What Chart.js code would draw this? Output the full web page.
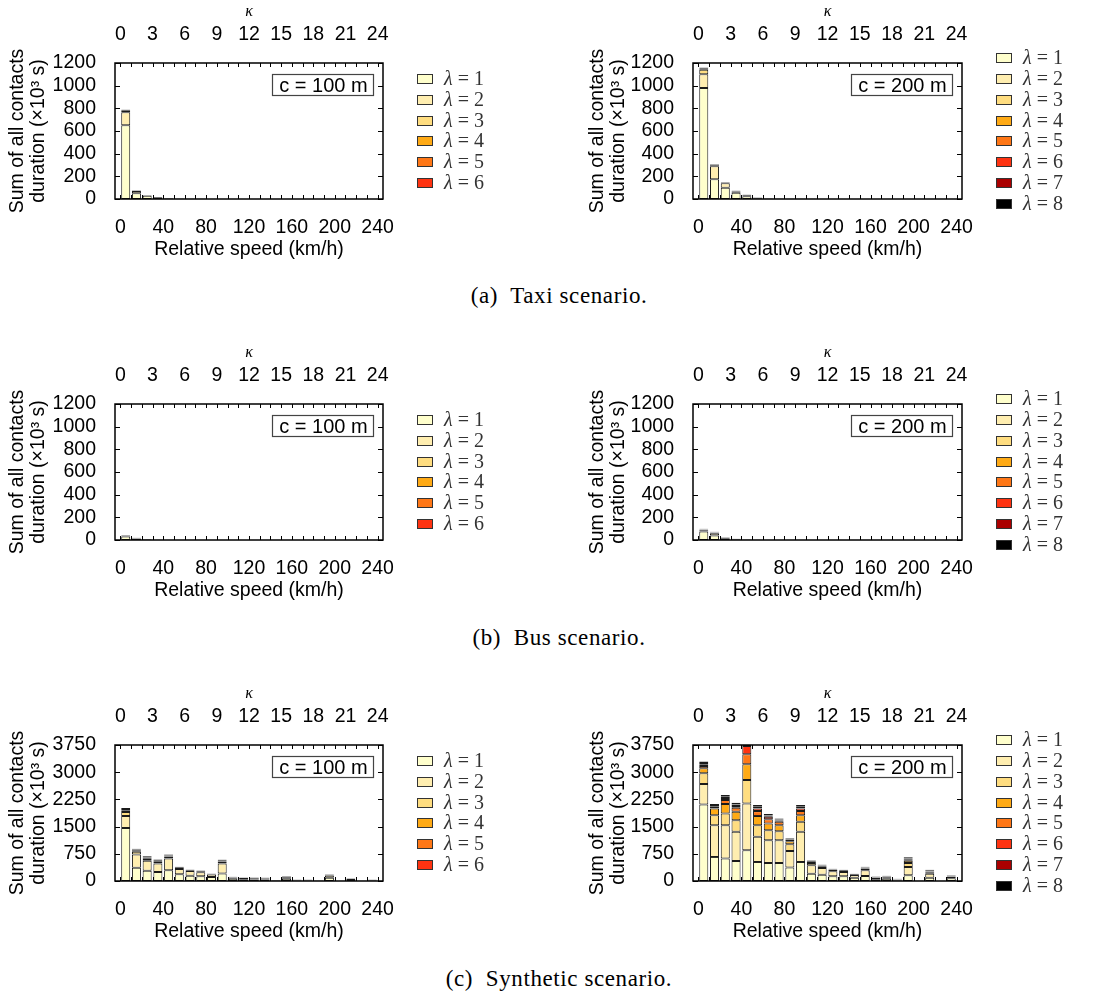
<!DOCTYPE html>
<html>
<head>
<meta charset="utf-8">
<script src="https://cdn.jsdelivr.net/npm/chart.js@4.4.1/dist/chart.umd.min.js"></script>
<style>
body { margin: 0; background: #fff; }
#fig { position: relative; width: 1118px; height: 996px; }
#fig canvas { position: absolute; }
.cap { position: absolute; left: 0; width: 1118px; text-align: center; font-family: 'Liberation Serif', serif; font-size: 23px; line-height: 26px; letter-spacing: 0.6px; color: #000; }
</style>
</head>
<body>
<div id="fig">
  <canvas id="taxi100" width="559" height="275" style="left:0;top:0"></canvas>
  <canvas id="taxi200" width="559" height="275" style="left:559px;top:0"></canvas>
  <div class="cap" style="top:283px">(a)&nbsp; Taxi scenario.</div>
  <canvas id="bus100" width="559" height="275" style="left:0;top:341px"></canvas>
  <canvas id="bus200" width="559" height="275" style="left:559px;top:341px"></canvas>
  <div class="cap" style="top:625px">(b)&nbsp; Bus scenario.</div>
  <canvas id="synth100" width="559" height="275" style="left:0;top:682px"></canvas>
  <canvas id="synth200" width="559" height="275" style="left:559px;top:682px"></canvas>
  <div class="cap" style="top:966px">(c)&nbsp; Synthetic scenario.</div>
</div>
<script>
// bar centres, relative speed (km/h)
var speeds = [5, 15, 25, 35, 45, 55, 65, 75, 85, 95, 105, 115, 125, 135, 145, 155, 165, 175, 185, 195, 205, 215, 225, 235];

var lambdaColors = ['#ffffcc', '#ffeeb0', '#ffdd80', '#ffaa15', '#ff7716', '#ff3311', '#aa0000', '#000000'];

var taxiTicks = [0, 200, 400, 600, 800, 1000, 1200];
var synthTicks = [0, 750, 1500, 2250, 3000, 3750];

// one row per lambda (1..6 or 1..8), values in 10^3 s
var taxi100 = [
  [650, 50, 28, 12, 5, 3, 1.5, 1, 0.5, 0.3, 0.2, 0, 0, 0, 0, 0, 0, 0, 0, 0, 0, 0, 0, 0],
  [115, 20, 6, 5, 2, 1.5, 0.5, 0.3, 0.2, 0, 0, 0, 0, 0, 0, 0, 0, 0, 0, 0, 0, 0, 0, 0],
  [12, 4, 1, 1, 1, 0.5, 0, 0, 0, 0, 0, 0, 0, 0, 0, 0, 0, 0, 0, 0, 0, 0, 0, 0],
  [6, 1, 0.5, 0, 0, 0, 0, 0, 0, 0, 0, 0, 0, 0, 0, 0, 0, 0, 0, 0, 0, 0, 0, 0],
  [4, 0.5, 0, 0, 0, 0, 0, 0, 0, 0, 0, 0, 0, 0, 0, 0, 0, 0, 0, 0, 0, 0, 0, 0],
  [3, 0.5, 0, 0, 0, 0, 0, 0, 0, 0, 0, 0, 0, 0, 0, 0, 0, 0, 0, 0, 0, 0, 0, 0]
];

var taxi200 = [
  [980, 175, 100, 55, 25, 6, 3, 2, 1.5, 1, 1, 0.8, 0.5, 0.3, 0, 0, 0, 0, 0, 0, 0, 0, 0, 0],
  [120, 115, 38, 12, 8, 4, 1.5, 1, 0.8, 0.5, 0.5, 0.3, 0.3, 0.2, 0, 0, 0, 0, 0, 0, 0, 0, 0, 0],
  [40, 8, 7, 4, 3, 2, 0.5, 0.5, 0.3, 0, 0, 0, 0, 0, 0, 0, 0, 0, 0, 0, 0, 0, 0, 0],
  [8, 3, 2, 1, 1, 1, 0.3, 0, 0, 0, 0, 0, 0, 0, 0, 0, 0, 0, 0, 0, 0, 0, 0, 0],
  [5, 2, 1, 1, 2, 0, 0, 0, 0, 0, 0, 0, 0, 0, 0, 0, 0, 0, 0, 0, 0, 0, 0, 0],
  [4, 1, 0.5, 0, 1, 0, 0, 0, 0, 0, 0, 0, 0, 0, 0, 0, 0, 0, 0, 0, 0, 0, 0, 0],
  [4, 1, 0.5, 0, 0, 0, 0, 0, 0, 0, 0, 0, 0, 0, 0, 0, 0, 0, 0, 0, 0, 0, 0, 0],
  [2, 3, 1.5, 2, 0, 2, 0.5, 0, 0, 0, 0, 0, 0, 0, 0, 0, 0, 0, 0, 0, 0, 0, 0, 0]
];

var bus100 = [
  [30, 10, 4, 1.2, 0.6, 0.3, 0, 0, 0, 0, 0, 0, 0, 0, 0, 0, 0, 0, 0, 0, 0, 0, 0, 0],
  [6, 5, 2, 0.5, 0.3, 0, 0, 0, 0, 0, 0, 0, 0, 0, 0, 0, 0, 0, 0, 0, 0, 0, 0, 0],
  [3, 2, 1, 0.2, 0, 0, 0, 0, 0, 0, 0, 0, 0, 0, 0, 0, 0, 0, 0, 0, 0, 0, 0, 0],
  [2, 1, 0.5, 0, 0, 0, 0, 0, 0, 0, 0, 0, 0, 0, 0, 0, 0, 0, 0, 0, 0, 0, 0, 0],
  [2, 1, 0.3, 0, 0, 0, 0, 0, 0, 0, 0, 0, 0, 0, 0, 0, 0, 0, 0, 0, 0, 0, 0, 0],
  [2, 1, 0.2, 0, 0, 0, 0, 0, 0, 0, 0, 0, 0, 0, 0, 0, 0, 0, 0, 0, 0, 0, 0, 0]
];

var bus200 = [
  [75, 40, 12, 5, 2, 1, 0, 0, 0, 0, 0, 0, 0, 0, 0, 0, 0, 0, 0, 0, 0, 0, 0, 0],
  [12, 20, 7, 3, 1.5, 0.5, 0, 0, 0, 0, 0, 0, 0, 0, 0, 0, 0, 0, 0, 0, 0, 0, 0, 0],
  [4, 4, 2, 1, 0.5, 0.2, 0, 0, 0, 0, 0, 0, 0, 0, 0, 0, 0, 0, 0, 0, 0, 0, 0, 0],
  [2, 2, 1, 0.5, 0.3, 0, 0, 0, 0, 0, 0, 0, 0, 0, 0, 0, 0, 0, 0, 0, 0, 0, 0, 0],
  [1, 1, 1, 0.5, 0.2, 0, 0, 0, 0, 0, 0, 0, 0, 0, 0, 0, 0, 0, 0, 0, 0, 0, 0, 0],
  [2, 1, 0.5, 0.5, 0.2, 0, 0, 0, 0, 0, 0, 0, 0, 0, 0, 0, 0, 0, 0, 0, 0, 0, 0, 0],
  [3, 1, 0.5, 0.5, 0.3, 0, 0, 0, 0, 0, 0, 0, 0, 0, 0, 0, 0, 0, 0, 0, 0, 0, 0, 0],
  [1, 3, 3, 1, 1, 0.3, 0, 0, 0, 0, 0, 0, 0, 0, 0, 0, 0, 0, 0, 0, 0, 0, 0, 0]
];

var synth100 = [
  [1460, 366, 285, 247, 293, 183, 146, 128, 110, 210, 60, 50, 40, 40, 10, 60, 10, 10, 5, 90, 3, 30, 3, 10],
  [330, 366, 273, 238, 329, 146, 129, 110, 70, 275, 35, 30, 35, 30, 8, 45, 10, 10, 5, 60, 2, 25, 2, 10],
  [110, 75, 55, 45, 55, 30, 22, 28, 15, 55, 10, 10, 10, 10, 5, 15, 6, 6, 3, 20, 2, 10, 2, 7],
  [50, 40, 35, 30, 28, 17, 12, 14, 8, 30, 7, 5, 7, 7, 3, 8, 5, 5, 3, 10, 1, 7, 1, 5],
  [35, 25, 22, 20, 15, 10, 7, 8, 4, 15, 4, 3, 5, 5, 2, 5, 4, 4, 2, 7, 1, 5, 1, 4],
  [25, 16, 16, 15, 12, 7, 4, 5, 3, 10, 3, 2, 3, 3, 2, 4, 5, 5, 2, 5, 1, 3, 1, 4]
];

var synth200 = [
  [2110, 665, 620, 553, 848, 525, 498, 498, 369, 525, 203, 175, 129, 129, 92, 138, 50, 60, 15, 157, 3, 92, 2, 74],
  [565, 875, 920, 802, 1290, 692, 627, 627, 461, 830, 230, 185, 138, 120, 74, 157, 40, 45, 12, 230, 3, 111, 2, 37],
  [295, 275, 322, 323, 645, 323, 276, 249, 184, 277, 65, 45, 35, 30, 18, 50, 15, 18, 8, 111, 2, 40, 1, 15],
  [138, 185, 260, 231, 435, 249, 185, 166, 83, 184, 28, 20, 15, 14, 8, 22, 8, 8, 5, 60, 2, 18, 1, 8],
  [65, 45, 110, 110, 275, 138, 120, 92, 46, 111, 18, 10, 8, 7, 4, 12, 5, 5, 4, 40, 2, 10, 1, 5],
  [46, 25, 56, 46, 230, 74, 64, 37, 18, 74, 10, 5, 5, 4, 2, 6, 3, 3, 4, 25, 3, 6, 1, 3],
  [37, 25, 36, 46, 40, 46, 37, 28, 14, 46, 8, 5, 4, 3, 2, 5, 3, 3, 5, 20, 5, 6, 1, 3],
  [36, 25, 46, 46, 40, 46, 37, 27, 14, 46, 10, 7, 7, 6, 3, 6, 5, 6, 12, 21, 2, 30, 1, 12]
];

Chart.defaults.font.family = "'Liberation Sans', Arial, sans-serif";
Chart.defaults.font.size = 19.5;
Chart.defaults.color = '#000';

// frame, inward ticks, "c = ..." box and the lambda key
var framePlugin = {
  id: 'frame',
  afterDatasetsDraw: function(chart, args, opts) {
    var ctx = chart.ctx, a = chart.chartArea, sx = chart.scales.x, sk = chart.scales.x2, sy = chart.scales.y;
    ctx.save();
    ctx.strokeStyle = '#000';
    ctx.lineWidth = 1;
    ctx.beginPath();
    for (var v = 0; v <= 240; v += 10) {
      var px = Math.round(sx.getPixelForValue(v)) + 0.5;
      ctx.moveTo(px, a.bottom); ctx.lineTo(px, a.bottom - 4);
    }
    for (var k = 0; k <= 24; k++) {
      var pk = Math.round(sk.getPixelForValue(k)) + 0.5;
      ctx.moveTo(pk, a.top); ctx.lineTo(pk, a.top + 4);
    }
    sy.ticks.forEach(function(t) {
      var py = Math.round(sy.getPixelForValue(t.value)) + 0.5;
      ctx.moveTo(a.left, py); ctx.lineTo(a.left + 5, py);
      ctx.moveTo(a.right, py); ctx.lineTo(a.right - 5, py);
    });
    ctx.stroke();
    ctx.lineWidth = 1.5;
    ctx.strokeRect(a.left, a.top, a.right - a.left, a.bottom - a.top);

    // range box
    var bw = 101, bh = 21, bx = a.right - 10 - bw, by = a.top + 11;
    ctx.fillStyle = '#fff';
    ctx.fillRect(bx, by, bw, bh);
    ctx.lineWidth = 1.2;
    ctx.strokeStyle = '#444';
    ctx.strokeRect(bx + 0.5, by + 0.5, bw, bh);
    ctx.fillStyle = '#000';
    ctx.font = "20px 'Liberation Sans'";
    ctx.textAlign = 'center';
    ctx.textBaseline = 'middle';
    ctx.fillText(opts.range, bx + bw / 2 + 1, by + bh / 2 + 1.5);

    // key
    var n = chart.data.datasets.length, cy = (a.top + a.bottom) / 2;
    var lx = a.right + 34, tx = a.right + 61;
    ctx.textAlign = 'left';
    chart.data.datasets.forEach(function(ds, i) {
      var y = Math.round(cy + (i - (n - 1) / 2) * 20.8);
      ctx.fillStyle = ds.backgroundColor;
      ctx.fillRect(lx, y - 5, 16, 10);
      ctx.strokeStyle = '#333';
      ctx.lineWidth = 1;
      ctx.strokeRect(lx + 0.5, y - 4.5, 15, 9);
      ctx.fillStyle = '#333';
      ctx.font = "italic 20px 'Liberation Serif'";
      ctx.fillText('\u03bb', tx, y + 1);
      var w = ctx.measureText('\u03bb').width;
      ctx.font = "20px 'Liberation Serif'";
      ctx.fillText('=', tx + w + 5, y + 1);
      var we = ctx.measureText('=').width;
      ctx.fillText(String(i + 1), tx + w + we + 10, y + 1);
    });
    ctx.restore();
  }
};

function makePanel(id, series, yMax, yTicks, range, isRight) {
  var chartLeft = isRight ? 134 : 115;
  var chartRight = isRight ? 403 : 383;
  var padLeft = isRight ? 21 : 0;
  var datasets = series.map(function(vals, i) {
    return {
      label: '\u03bb = ' + (i + 1),
      data: vals,
      xAxisID: 'x',
      yAxisID: 'y',
      backgroundColor: lambdaColors[i],
      borderColor: '#1a1a1a',
      borderWidth: 1,
      borderSkipped: false,
      categoryPercentage: 1,
      barPercentage: 0.84
    };
  });
  return new Chart(document.getElementById(id), {
    type: 'bar',
    data: { labels: speeds, datasets: datasets },
    options: {
      responsive: false,
      animation: false,
      layout: { padding: { left: padLeft, right: 559 - chartRight, top: 0, bottom: 0 } },
      plugins: { legend: { display: false }, tooltip: { enabled: false }, frame: { range: range } },
      scales: {
        x: {
          type: 'linear', position: 'bottom', stacked: true, offset: false, min: -5, max: 245,
          grid: { display: false, offset: false }, border: { display: false },
          ticks: { stepSize: 40, includeBounds: false, padding: 8.5, maxRotation: 0, autoSkip: false },
          title: { display: true, text: 'Relative speed (km/h)', padding: { top: 0, bottom: 13.6 } },
          afterFit: function(s) { s.height = 76; }
        },
        x2: {
          type: 'linear', position: 'top', offset: false, min: -0.5, max: 24.5,
          grid: { display: false, offset: false }, border: { display: false },
          ticks: { stepSize: 3, includeBounds: false, padding: 8.5, maxRotation: 0, autoSkip: false },
          title: { display: true, text: '\u03ba', padding: { top: 2, bottom: 0 },
                   font: { family: "'Liberation Serif', serif", style: 'italic', size: 16 } },
          afterFit: function(s) { s.height = 63; }
        },
        y: {
          type: 'linear', stacked: true, min: 0, max: yMax,
          grid: { display: false }, border: { display: false },
          afterBuildTicks: function(s) { s.ticks = yTicks.map(function(v) { return { value: v }; }); },
          ticks: { padding: 11, autoSkip: false, callback: function(v) { return String(v); } },
          title: { display: true, text: ['Sum of all contacts', 'duration (\u00d710\u00b3 s)'],
                   padding: { top: 7.5, bottom: 0 }, font: { lineHeight: 1.08 } },
          afterFit: function(s) { s.width = chartLeft - padLeft; }
        }
      }
    },
    plugins: [framePlugin]
  });
}

makePanel('taxi100', taxi100, 1200, taxiTicks, 'c = 100 m', false);
makePanel('taxi200', taxi200, 1200, taxiTicks, 'c = 200 m', true);
makePanel('bus100', bus100, 1200, taxiTicks, 'c = 100 m', false);
makePanel('bus200', bus200, 1200, taxiTicks, 'c = 200 m', true);
makePanel('synth100', synth100, 3750, synthTicks, 'c = 100 m', false);
makePanel('synth200', synth200, 3750, synthTicks, 'c = 200 m', true);
</script>
</body>
</html>
